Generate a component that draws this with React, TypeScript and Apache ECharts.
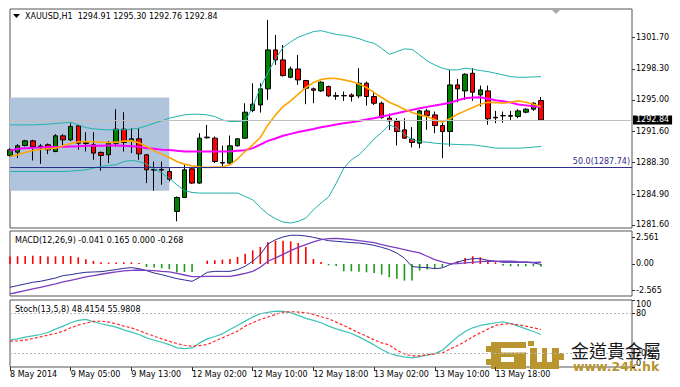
import React, { useEffect, useRef } from "react";
import * as echarts from "echarts";

const categories = [
  "8 May 21:00","8 May 22:00","8 May 23:00",
  "9 May 00:00","9 May 01:00","9 May 02:00","9 May 03:00","9 May 04:00","9 May 05:00","9 May 06:00","9 May 07:00","9 May 08:00","9 May 09:00",
  "9 May 10:00","9 May 11:00","9 May 12:00","9 May 13:00","9 May 14:00","9 May 15:00","9 May 16:00","9 May 17:00","9 May 18:00","9 May 19:00",
  "12 May 01:00","12 May 02:00","12 May 03:00","12 May 04:00","12 May 05:00","12 May 06:00","12 May 07:00","12 May 08:00","12 May 09:00","12 May 10:00",
  "12 May 11:00","12 May 12:00","12 May 13:00","12 May 14:00","12 May 15:00","12 May 16:00","12 May 17:00","12 May 18:00","12 May 19:00","12 May 20:00",
  "12 May 21:00","12 May 22:00","12 May 23:00",
  "13 May 00:00","13 May 01:00","13 May 02:00","13 May 03:00","13 May 04:00","13 May 05:00","13 May 06:00","13 May 07:00","13 May 08:00","13 May 09:00",
  "13 May 10:00","13 May 11:00","13 May 12:00","13 May 13:00","13 May 14:00","13 May 15:00","13 May 16:00","13 May 17:00","13 May 18:00","13 May 19:00",
  "13 May 20:00","13 May 21:00","13 May 22:00","13 May 23:00","14 May 00:00"
];
const firstTickLabel = "8 May 2014";

const opens = [
  1289.04,1289.39,1290.11,1290.60,1290.05,1290.18,1289.46,1291.14,1290.71,1292.21,
  1290.39,1290.18,1289.36,1289.11,1290.35,1291.85,1290.53,1290.82,1289.11,1287.54,
  1287.54,1287.32,1283.05,1284.54,1287.61,1286.08,1291.00,1290.89,1288.29,1288.22,
  1290.07,1290.89,1293.85,1294.45,1296.17,1300.34,1299.27,1297.41,1298.30,1297.06,
  1296.17,1295.95,1296.42,1295.45,1295.42,1295.52,1295.42,1296.77,1295.35,1294.63,
  1293.03,1292.67,1291.78,1290.78,1290.35,1293.81,1293.38,1292.24,1291.60,1296.59,
  1295.95,1297.84,1295.52,1295.95,1293.13,1293.28,1293.24,1293.21,1293.67,1293.99,
  1294.91
];
const highs = [
  1289.82,1290.25,1290.71,1290.71,1290.25,1290.32,1291.32,1291.32,1292.49,1292.31,
  1291.53,1291.53,1289.46,1290.60,1293.99,1293.67,1291.96,1291.96,1289.18,1288.39,
  1288.39,1287.68,1284.65,1288.04,1287.68,1291.42,1292.31,1291.07,1290.10,1291.17,
  1290.89,1294.63,1296.77,1296.77,1303.55,1301.94,1300.87,1298.55,1299.80,1297.13,
  1296.31,1296.99,1296.52,1295.81,1295.88,1295.70,1298.38,1296.95,1295.88,1294.81,
  1293.53,1293.03,1293.03,1292.07,1293.92,1294.03,1293.74,1292.67,1298.20,1297.24,
  1297.84,1298.38,1296.52,1296.52,1293.81,1293.74,1293.81,1293.99,1294.10,1294.74,
  1295.30
];
const lows = [
  1288.93,1288.75,1290.00,1288.50,1288.14,1289.18,1289.39,1290.11,1290.60,1289.64,
  1289.46,1288.57,1287.40,1288.22,1290.00,1289.46,1289.29,1288.57,1286.08,1285.26,
  1285.90,1286.25,1281.98,1284.47,1286.00,1286.00,1290.85,1288.22,1287.86,1288.11,
  1290.00,1290.82,1293.67,1293.63,1294.99,1298.73,1297.48,1297.31,1296.59,1294.53,
  1294.63,1295.84,1295.31,1294.99,1294.88,1294.81,1295.17,1294.38,1294.45,1292.96,
  1291.78,1290.11,1290.82,1289.89,1289.81,1291.78,1291.42,1288.75,1290.00,1294.74,
  1294.99,1294.88,1294.28,1292.32,1292.49,1292.56,1292.74,1293.03,1293.56,1293.81,
  1292.76
];
const closes = [
  1289.64,1290.07,1290.60,1290.00,1290.00,1289.64,1291.14,1290.71,1292.14,1290.35,
  1290.32,1289.29,1289.04,1290.35,1291.85,1290.43,1290.82,1289.21,1287.50,1287.47,
  1287.47,1286.50,1284.54,1287.50,1286.08,1290.89,1290.93,1288.39,1288.22,1290.07,
  1290.82,1293.67,1294.53,1296.17,1300.34,1299.27,1297.59,1298.30,1297.13,1296.24,
  1296.02,1296.88,1295.42,1295.38,1295.45,1295.35,1296.77,1295.35,1294.63,1293.10,
  1292.74,1291.60,1290.89,1290.43,1293.81,1293.31,1292.24,1291.60,1296.59,1296.17,
  1297.73,1295.81,1296.06,1292.96,1293.06,1293.31,1293.31,1293.81,1293.99,1294.63,
  1292.84
];

// orange moving average
const maFast = [
  1288.93,1289.11,1289.36,1289.57,1289.68,1289.75,1289.82,1290.07,1290.32,1290.50,
  1290.53,1290.50,1290.46,1290.43,1290.46,1290.57,1290.60,1290.39,1290.00,1289.53,
  1289.18,1288.82,1288.39,1288.11,1287.93,1287.79,1287.75,1287.79,1287.79,1288.04,
  1288.68,1289.46,1290.18,1290.96,1292.31,1293.38,1294.28,1294.88,1295.60,1296.31,
  1296.84,1297.16,1297.31,1297.27,1297.13,1296.95,1296.70,1296.31,1295.77,1295.24,
  1294.74,1294.38,1293.99,1293.63,1293.38,1293.21,1292.85,1292.60,1292.96,1293.46,
  1293.81,1294.17,1294.53,1294.74,1294.70,1294.63,1294.74,1294.88,1294.74,1294.53,
  1294.28
];
// magenta moving average
const maSlow = [
  1289.53,1289.75,1289.82,1289.86,1289.89,1289.93,1289.93,1289.96,1290.00,1290.03,
  1290.07,1290.07,1290.07,1290.11,1290.11,1290.07,1290.03,1289.96,1289.82,1289.75,
  1289.64,1289.61,1289.53,1289.46,1289.46,1289.46,1289.46,1289.46,1289.46,1289.46,
  1289.53,1289.60,1289.82,1290.20,1290.60,1290.85,1291.15,1291.35,1291.55,1291.72,
  1291.88,1292.05,1292.20,1292.35,1292.49,1292.60,1292.72,1292.88,1293.03,1293.21,
  1293.38,1293.56,1293.74,1293.92,1294.10,1294.24,1294.38,1294.53,1294.67,1294.95,
  1295.17,1295.24,1295.27,1295.10,1294.95,1294.85,1294.70,1294.50,1294.40,1294.30,
  1294.21
];
const bbUpper = [
  1292.31,1292.31,1292.31,1292.31,1292.35,1292.39,1292.46,1292.53,1292.60,1292.31,
  1292.03,1291.89,1291.82,1291.78,1291.78,1291.78,1291.85,1291.96,1292.21,1292.49,
  1292.74,1293.03,1293.21,1293.38,1293.45,1293.45,1293.38,1293.21,1292.85,1292.67,
  1292.67,1292.74,1294.20,1296.30,1297.90,1299.40,1300.60,1301.20,1301.70,1302.00,
  1302.30,1302.40,1302.20,1302.00,1301.90,1301.75,1301.55,1301.25,1301.05,1300.50,
  1299.87,1300.16,1300.44,1300.40,1299.80,1299.16,1298.73,1298.38,1298.20,1298.20,
  1298.38,1298.27,1298.13,1298.02,1297.84,1297.66,1297.48,1297.41,1297.41,1297.45,
  1297.48
];
const bbLower = [
  1287.32,1287.32,1287.32,1287.32,1287.32,1287.32,1287.32,1287.32,1287.36,1287.43,
  1287.50,1287.68,1287.86,1287.97,1288.04,1288.39,1288.50,1288.39,1288.11,1287.61,
  1287.15,1286.61,1285.90,1285.26,1285.08,1285.01,1285.01,1285.01,1285.01,1285.01,
  1285.01,1284.65,1284.29,1283.47,1282.76,1282.26,1281.91,1281.80,1281.98,1282.33,
  1283.22,1283.94,1284.60,1286.05,1287.68,1288.57,1289.11,1289.90,1290.80,1291.50,
  1292.30,1292.00,1291.30,1290.71,1290.53,1290.46,1290.35,1290.28,1290.25,1290.21,
  1290.18,1290.18,1290.07,1289.96,1289.82,1289.82,1289.82,1289.82,1289.86,1289.93,
  1290.00
];

const macdMain = [
  -2.24,-2.08,-1.92,-1.76,-1.67,-1.51,-1.35,-1.12,-1.03,-0.90,
  -0.80,-0.77,-0.74,-0.64,-0.54,-0.42,-0.35,-0.45,-0.64,-0.87,
  -1.03,-1.22,-1.41,-1.54,-1.67,-1.28,-0.80,-0.71,-0.71,-0.71,
  -0.54,-0.22,0.26,0.90,1.92,2.34,2.60,2.76,2.76,2.69,
  2.56,2.40,2.24,2.18,2.12,2.05,2.02,1.92,1.79,1.60,
  1.38,1.05,0.55,-0.25,-0.32,-0.35,-0.45,-0.38,-0.06,0.19,
  0.38,0.51,0.51,0.35,0.26,0.16,0.16,0.16,0.16,0.10,
  -0.041
];
const macdSignal = [
  -2.88,-2.72,-2.56,-2.40,-2.24,-2.08,-1.92,-1.73,-1.57,-1.41,
  -1.25,-1.12,-0.99,-0.87,-0.77,-0.67,-0.61,-0.58,-0.61,-0.64,
  -0.71,-0.77,-0.90,-1.06,-1.22,-1.22,-1.19,-1.19,-1.19,-1.19,
  -1.06,-0.90,-0.71,-0.32,0.26,0.58,0.93,1.28,1.60,1.86,
  2.12,2.34,2.44,2.47,2.40,2.34,2.24,2.15,2.05,1.86,
  1.70,1.54,1.38,1.22,1.06,0.74,0.42,0.19,0.00,0.03,
  0.10,0.16,0.22,0.26,0.26,0.26,0.26,0.22,0.19,0.16,
  0.165
];
const macdHist = [
  0.71,0.74,0.77,0.80,0.77,0.71,0.74,0.77,0.77,0.64,
  0.45,0.29,0.16,0.13,0.13,0.16,0.16,0.10,-0.29,-0.35,
  -0.42,-0.51,-0.83,-0.77,-0.77,0.00,0.32,0.35,0.42,0.48,
  0.67,0.99,1.31,1.63,2.08,2.24,2.24,2.18,2.02,1.63,
  0.48,0.19,-0.13,-0.19,-0.71,-0.71,-0.74,-0.80,-0.87,-1.03,
  -1.28,-1.41,-1.60,-1.60,-0.64,-0.54,-0.45,-0.32,0.10,0.26,
  0.58,0.74,0.64,0.35,0.16,-0.16,-0.22,-0.22,-0.22,-0.22,
  -0.268
];

const stochMain = [
  40.0,42.0,44.5,46.5,48.5,51.5,56.5,61.0,66.0,69.5,
  71.0,67.5,64.5,62.0,59.5,55.5,52.0,48.5,43.5,40.0,
  37.0,33.5,28.5,27.5,28.5,36.0,42.0,45.5,49.5,56.0,
  62.0,68.5,74.5,79.5,81.5,83.5,83.0,81.0,77.0,72.5,
  69.5,66.0,61.0,57.0,53.5,50.0,45.0,39.0,33.0,26.0,
  20.5,17.0,15.0,13.5,15.5,17.5,20.0,25.0,35.0,45.0,
  53.0,58.5,62.0,64.0,66.0,67.5,65.0,61.0,57.0,53.0,
  48.4154
];
const stochSignal = [
  38.5,39.0,40.0,42.5,45.0,47.5,50.0,53.5,58.5,62.5,
  65.5,68.0,68.5,67.0,64.5,61.0,58.5,54.5,50.0,46.0,
  42.0,38.5,35.0,32.5,31.0,32.0,33.5,38.5,43.5,48.5,
  53.5,61.0,66.0,71.0,74.5,78.5,82.0,82.5,82.0,81.0,
  78.5,75.0,72.0,67.0,62.0,56.5,51.0,46.0,40.5,36.0,
  33.0,25.0,19.5,16.5,16.5,18.5,19.5,21.0,26.5,32.0,
  38.0,45.0,51.0,56.5,62.0,64.0,64.5,63.0,61.0,58.5,
  55.9808
];

const priceTicks = [1281.60, 1284.90, 1288.30, 1291.60, 1295.00, 1298.30, 1301.70];
const macdTicks = [-2.565, 0, 2.561];
const stochTicks = [0, 20, 80, 100];
const stochLevels = [80, 20];
const lastPrice = 1292.84;
const fibLevel = 1287.74;
const fibText = "50.0(1287.74)";
const boxTop = 1295.24;
const boxBottom = 1285.26;
const boxFromIndex = 0;
const boxToIndex = 21;

const headerText = "XAUUSD,H1  1294.91 1295.30 1292.76 1292.84";
const macdText = "MACD(12,26,9) -0.041 0.165 0.000 -0.268";
const stochText = "Stoch(13,5,8) 48.4154 55.9808";

const FONT = '"DejaVu Sans", Tahoma, sans-serif';
const GOLD = "#b8952f";

export default function App() {
  const ref = useRef<HTMLDivElement>(null);

  useEffect(() => {
    document.body.style.margin = "0";
    const chart = echarts.init(ref.current!, null, { renderer: "svg" });
    const candleData = opens.map((o, i) => [o, closes[i], lows[i], highs[i]]);
    const showTick = (index: number) => index % 8 === 0 && index < categories.length;

    const gridBase = { left: 10, right: 48, show: true, borderColor: "#555", borderWidth: 1, backgroundColor: "#fff" };
    const axisLabelBase = { fontSize: 8, fontFamily: FONT, color: "#000" };

    const option: any = {
      animation: false,
      backgroundColor: "#ffffff",
      grid: [
        { ...gridBase, top: 9, height: 219 },
        { ...gridBase, top: 231, height: 65 },
        { ...gridBase, top: 300, height: 67 },
      ],
      xAxis: [0, 1, 2].map((i) => ({
        type: "category",
        gridIndex: i,
        data: categories,
        boundaryGap: false,
        min: 0,
        max: 82,
        axisLine: { show: false },
        splitLine: { show: false },
        axisTick:
          i === 2
            ? { show: true, interval: showTick, length: 4, lineStyle: { color: "#333" } }
            : { show: false },
        axisLabel:
          i === 2
            ? {
                show: true,
                interval: showTick,
                align: "left",
                margin: 3,
                ...axisLabelBase,
                formatter: (v: string, idx: number) => (idx === 0 ? firstTickLabel : v || ""),
              }
            : { show: false },
      })),
      yAxis: [
        {
          type: "value",
          gridIndex: 0,
          position: "right",
          min: 1281.27,
          max: 1304.72,
          splitLine: { show: false },
          axisLine: { show: false },
          axisTick: { show: true, length: 3, customValues: priceTicks, lineStyle: { color: "#333" } },
          axisLabel: { ...axisLabelBase, margin: 4, customValues: priceTicks, formatter: (v: number) => v.toFixed(2) },
        },
        {
          type: "value",
          gridIndex: 1,
          position: "right",
          min: -3.08,
          max: 3.17,
          splitLine: { show: false },
          axisLine: { show: false },
          axisTick: { show: true, length: 3, customValues: macdTicks, lineStyle: { color: "#333" } },
          axisLabel: {
            ...axisLabelBase,
            margin: 4,
            customValues: macdTicks,
            formatter: (v: number) => (v === 0 ? "0.00" : v.toFixed(3)),
          },
        },
        {
          type: "value",
          gridIndex: 2,
          position: "right",
          min: 0,
          max: 100,
          splitLine: { show: false },
          axisLine: { show: false },
          axisTick: { show: true, length: 3, customValues: stochTicks, lineStyle: { color: "#333" } },
          axisLabel: {
            ...axisLabelBase,
            margin: 4,
            customValues: stochTicks,
            verticalAlignMaxLabel: "top",
            verticalAlignMinLabel: "bottom",
            formatter: (v: number) => String(v),
          },
        },
      ],
      series: [
        {
          name: "XAUUSD",
          type: "candlestick",
          xAxisIndex: 0,
          yAxisIndex: 0,
          data: candleData,
          barWidth: 5,
          z: 3,
          clip: false,
          itemStyle: { color: "#008000", color0: "#ff0000", borderColor: "#000", borderColor0: "#000", borderWidth: 1 },
          markArea: {
            silent: true,
            itemStyle: { color: "#b0c4de", opacity: 1 },
            data: [
              [
                { xAxis: categories[boxFromIndex], yAxis: boxTop },
                { xAxis: categories[boxToIndex], yAxis: boxBottom },
              ],
            ],
          },
          markLine: {
            silent: true,
            symbol: "none",
            data: [
              {
                yAxis: lastPrice,
                lineStyle: { color: "#c0c0c0", type: "solid", width: 1 },
                label: {
                  show: true,
                  position: "end",
                  distance: 1,
                  formatter: lastPrice.toFixed(2),
                  backgroundColor: "#000",
                  color: "#fff",
                  padding: [1, 3, 0, 3],
                  fontSize: 8,
                  fontFamily: FONT,
                },
              },
              {
                yAxis: fibLevel,
                lineStyle: { color: "#2e2e8a", type: "solid", width: 1 },
                label: {
                  show: true,
                  position: "insideEndTop",
                  distance: 2,
                  formatter: fibText,
                  color: "#2e2e8a",
                  fontSize: 8,
                  fontFamily: FONT,
                },
              },
            ],
          },
        },
        { type: "line", xAxisIndex: 0, yAxisIndex: 0, data: bbUpper, symbol: "none", z: 4, lineStyle: { color: "#20b2aa", width: 1 } },
        { type: "line", xAxisIndex: 0, yAxisIndex: 0, data: bbLower, symbol: "none", z: 4, lineStyle: { color: "#20b2aa", width: 1 } },
        { type: "line", xAxisIndex: 0, yAxisIndex: 0, data: maSlow, symbol: "none", z: 4, lineStyle: { color: "#ff00ff", width: 2 } },
        { type: "line", xAxisIndex: 0, yAxisIndex: 0, data: maFast, symbol: "none", z: 4, lineStyle: { color: "#ffa500", width: 1.6 } },
        {
          type: "bar",
          xAxisIndex: 1,
          yAxisIndex: 1,
          data: macdHist,
          barWidth: 1.6,
          z: 2,
          itemStyle: { color: (p: any) => (p.value >= 0 ? "#ff0000" : "#1f9a1f") },
        },
        { type: "line", xAxisIndex: 1, yAxisIndex: 1, data: macdMain, symbol: "none", z: 3, lineStyle: { color: "#2c2c94", width: 1 } },
        { type: "line", xAxisIndex: 1, yAxisIndex: 1, data: macdSignal, symbol: "none", z: 3, lineStyle: { color: "#7d3fc2", width: 1.3 } },
        {
          type: "line",
          xAxisIndex: 2,
          yAxisIndex: 2,
          data: stochMain,
          symbol: "none",
          z: 3,
          lineStyle: { color: "#3cc4b4", width: 1.2 },
          markLine: {
            silent: true,
            symbol: "none",
            label: { show: false },
            lineStyle: { color: "#b8b8b8", type: [2, 2], width: 1 },
            data: stochLevels.map((v) => ({ yAxis: v })),
          },
        },
        {
          type: "line",
          xAxisIndex: 2,
          yAxisIndex: 2,
          data: stochSignal,
          symbol: "none",
          z: 3,
          lineStyle: { color: "#ff2a2a", width: 1.2, type: [3, 2] },
        },
      ],
      graphic: [
        { type: "polygon", shape: { points: [[13, 14], [20, 14], [16.5, 18]] }, style: { fill: "#000" } },
        { type: "text", x: 25, y: 16.5, style: { text: headerText, fontSize: 8, fontFamily: FONT, fill: "#000", verticalAlign: "middle" } },
        { type: "text", x: 15, y: 240, style: { text: macdText, fontSize: 8, fontFamily: FONT, fill: "#000", verticalAlign: "middle" } },
        { type: "text", x: 15, y: 309, style: { text: stochText, fontSize: 8, fontFamily: FONT, fill: "#000", verticalAlign: "middle" } },
        { type: "polygon", shape: { points: [[552, 10], [560, 10], [556, 14]] }, style: { fill: "#a8a8a8" } },
        {
          type: "group",
          z: 50,
          children: [
            { type: "rect", shape: { x: 491, y: 342, width: 35, height: 27 }, style: { fill: GOLD } },
            { type: "rect", shape: { x: 486, y: 346, width: 6, height: 6 }, style: { fill: GOLD } },
            { type: "rect", shape: { x: 486, y: 359, width: 6, height: 6 }, style: { fill: GOLD } },
            { type: "rect", shape: { x: 501, y: 348, width: 25, height: 4.5 }, style: { fill: "#fff" } },
            { type: "rect", shape: { x: 501, y: 357, width: 13, height: 5 }, style: { fill: "#fff" } },
            { type: "rect", shape: { x: 528, y: 341, width: 6, height: 5 }, style: { fill: GOLD } },
            { type: "rect", shape: { x: 530, y: 348, width: 29, height: 21 }, style: { fill: GOLD } },
            { type: "rect", shape: { x: 537, y: 348, width: 5, height: 14 }, style: { fill: "#fff" } },
            { type: "rect", shape: { x: 547, y: 348, width: 5, height: 14 }, style: { fill: "#fff" } },
            { type: "rect", shape: { x: 558, y: 353, width: 6, height: 7 }, style: { fill: GOLD } },
            {
              type: "text",
              x: 571,
              y: 350,
              style: { text: "金道貴金屬", fontSize: 18, fontFamily: '"Noto Sans CJK TC", sans-serif', fill: "#1a1a1a", verticalAlign: "middle" },
            },
            {
              type: "text",
              x: 573,
              y: 366,
              style: { text: "www.24k.hk", fontSize: 12.5, fontWeight: "bold", fontFamily: FONT, fill: GOLD, verticalAlign: "middle" },
            },
          ],
        },
      ],
    };

    chart.setOption(option);
    return () => chart.dispose();
  }, []);

  return <div ref={ref} style={{ position: "fixed", left: 0, top: 0, width: 680, height: 387, background: "#fff" }} />;
}
